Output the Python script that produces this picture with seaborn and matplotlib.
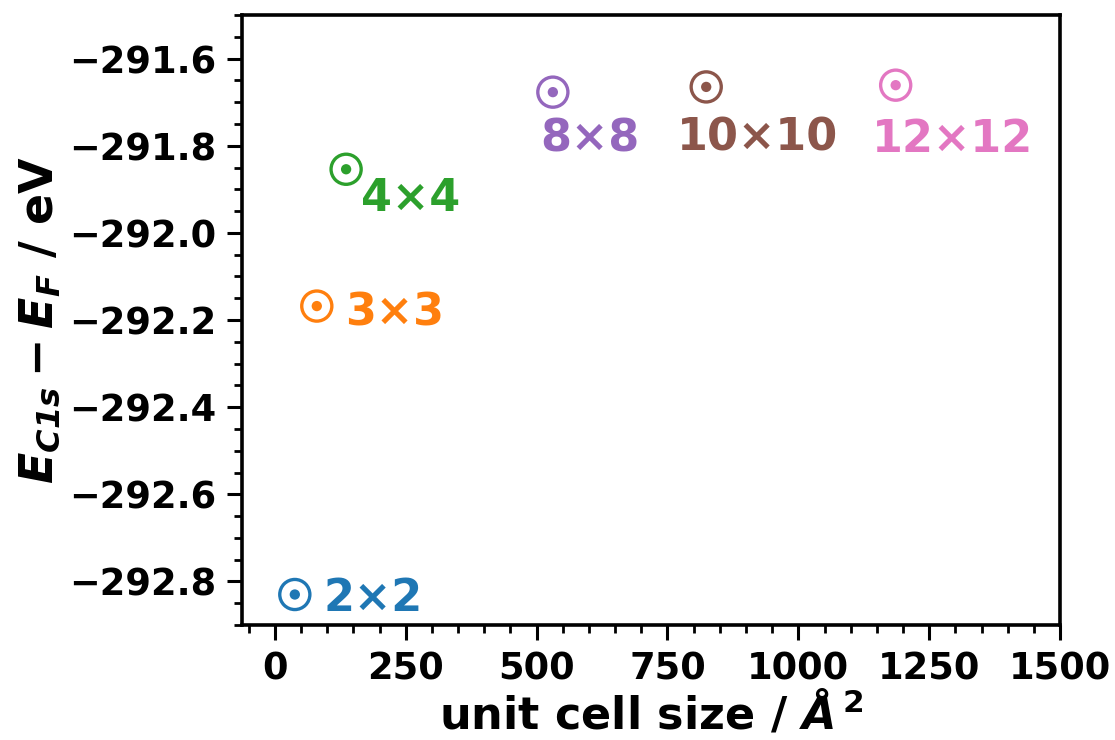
import numpy as np
import pandas as pd
import matplotlib
matplotlib.use("Agg")
import matplotlib.pyplot as plt
from matplotlib.ticker import MultipleLocator
import seaborn as sns

# Supercell sizes and C1s core-level binding energies relative to E_F
cells = ["2×2", "3×3", "4×4", "8×8", "10×10", "12×12"]
area = [38, 80, 136, 531, 824, 1186]                 # Å^2
energy = [-292.830, -292.168, -291.854, -291.677, -291.665, -291.661]  # eV

tab = sns.color_palette("tab10")
colors = [tab[0], tab[1], tab[2], tab[4], tab[5], tab[6]]

# label offsets (points) relative to each marker
label_dx = [21, 20, 11, -9, -21, -17]
label_dy = [-12, -14, -30, -43, -46, -48]

df = pd.DataFrame({"cell": cells, "area": area, "energy": energy})

sns.set_style("ticks")
plt.rcParams["font.family"] = ["DejaVu Sans"]
plt.rcParams["font.weight"] = "bold"
plt.rcParams["mathtext.fontset"] = "dejavusans"
for key in ["text.color", "axes.labelcolor", "xtick.color", "ytick.color",
            "axes.edgecolor"]:
    plt.rcParams[key] = "black"

fig = plt.figure(figsize=(11.15, 7.4), dpi=100)
ax = fig.add_axes([0.217, 0.1554, 0.7337, 0.8243])

pal = dict(zip(cells, colors))

# open rings
sns.scatterplot(data=df, x="area", y="energy", hue="cell", palette=pal,
                s=470, linewidth=2.4, legend=False, ax=ax, zorder=3)
ring = ax.collections[-1]
ring.set_edgecolors(ring.get_facecolors())
ring.set_facecolors("none")

# centre dots
sns.scatterplot(data=df, x="area", y="energy", hue="cell", palette=pal,
                s=55, linewidth=0, legend=False, ax=ax, zorder=4)

for c, x, y, col, dx, dy in zip(cells, area, energy, colors, label_dx, label_dy):
    ax.annotate(c, (x, y), xytext=(dx, dy), textcoords="offset points",
                ha="left", va="baseline", color=col, fontsize=32,
                fontweight="bold")

ax.set_xlim(-63, 1500)
ax.set_ylim(-292.9, -291.5)
ax.xaxis.set_major_locator(MultipleLocator(250))
ax.xaxis.set_minor_locator(MultipleLocator(50))
ax.yaxis.set_major_locator(MultipleLocator(0.2))
ax.yaxis.set_minor_locator(MultipleLocator(0.05))

ax.tick_params(axis="both", which="major", direction="out", length=10.5,
               width=2.2, labelsize=26.5, pad=8, color="black",
               labelcolor="black")
ax.tick_params(axis="both", which="minor", direction="out", length=6,
               width=2.0, color="black")
for lab in ax.get_xticklabels() + ax.get_yticklabels():
    lab.set_fontweight("bold")
for sp in ax.spines.values():
    sp.set_linewidth(2.6)
    sp.set_color("black")
    sp.set_visible(True)

ax.set_xlabel(r"unit cell size / $\mathbfit{\AA}^{\,\mathbf{2}}$",
              fontsize=32, fontweight="bold", labelpad=1)
ax.set_ylabel(r"$\mathbfit{E}_{\mathbfit{C1s}} - \mathbfit{E}_{\mathbfit{F}}$ / eV",
              fontsize=33, fontweight="bold", labelpad=5)

fig.savefig("out.png", dpi=100)
